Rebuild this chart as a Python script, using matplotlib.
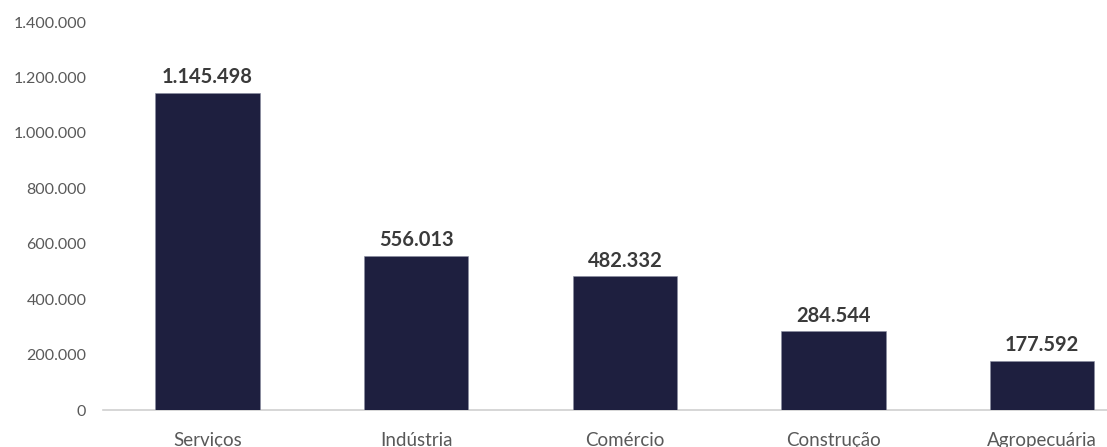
import matplotlib
matplotlib.use("Agg")
import matplotlib.pyplot as plt
from matplotlib.ticker import FuncFormatter

categories = ["Serviços", "Indústria", "Comércio", "Construção", "Agropecuária"]
values = [1145498, 556013, 482332, 284544, 177592]
yticks = [0, 200000, 400000, 600000, 800000, 1000000, 1200000, 1400000]

def fmt(v):
    return f"{int(v):,}".replace(",", ".")

plt.rcParams['font.family'] = ['Lato', 'DejaVu Sans']

fig = plt.figure(figsize=(11.07, 4.47), dpi=100)
ax = fig.add_axes([103/1107, 37/447, 1 - 103/1107, (410-22)/447])

x = list(range(len(categories)))
bars = ax.bar(x, values, width=0.5, color="#1e1f3f", edgecolor="#8a8da0", linewidth=0.4, zorder=3)
for xi, v in zip(x, values):
    ax.text(xi, v + 20000, fmt(v), ha="center", va="bottom", fontsize=14.5,
            fontweight="bold", color="#3a3a3a")

ax.set_xlim(-0.5, 4.31)
ax.set_ylim(0, 1400000)
ax.set_yticks(yticks)
ax.yaxis.set_major_formatter(FuncFormatter(lambda v, p: fmt(v)))
ax.set_xticks(x)
ax.set_xticklabels(categories)
ax.tick_params(axis="y", length=0, labelsize=11.5, labelcolor="#595959", pad=12)
ax.tick_params(axis="x", length=0, labelsize=13.5, labelcolor="#595959", pad=16)
for s in ["top", "right", "left"]:
    ax.spines[s].set_visible(False)
ax.spines["bottom"].set_color("#d0d0d0")
ax.spines["bottom"].set_linewidth(1.2)

fig.savefig("out.png", dpi=100)
